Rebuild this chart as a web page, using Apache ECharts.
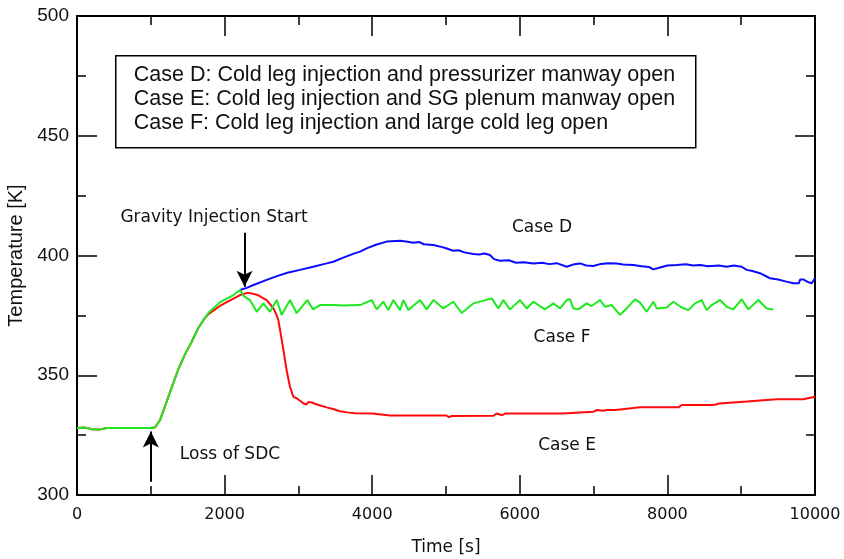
<!DOCTYPE html>
<html>
<head>
<meta charset="utf-8">
<script src="https://cdn.jsdelivr.net/npm/echarts@6/dist/echarts.min.js"></script>
<style>
html,body{margin:0;padding:0;background:#fff;}
#chart{width:844px;height:559px;}
</style>
</head>
<body>
<div id="chart"></div>
<script>
// ---- data (time [s], temperature [K]) ----
const caseD = [
  [2209,385.6],[2300,386.5],[2400,387.8],[2570,389.8],[2700,391.3],[2850,392.8],[3022,394],[3200,395.3],
  [3383,396.7],[3473,397.4],[3600,399],[3750,400.8],[3835,401.6],[3925,403],[4050,404.5],[4196,405.8],
  [4377,406.2],[4460,405.8],[4557,405.3],[4640,405.6],[4700,404.7],[4828,404.4],[4950,403.5],[5000,403],
  [5099,402],[5170,402.2],[5250,401.3],[5370,400.6],[5450,400.4],[5520,400.8],[5596,400.2],[5650,398.5],
  [5732,397.8],[5850,398],[5950,397],[6050,397.2],[6184,396.7],[6300,397],[6400,396.4],[6500,396.8],
  [6636,395.3],[6720,396.2],[6816,396.7],[6900,395.8],[6996,395.6],[7100,396.5],[7200,396.8],[7313,396.7],
  [7400,396.2],[7539,396],[7650,395.5],[7750,395.2],[7810,394.2],[7900,395],[8000,395.8],[8126,396],
  [8250,396.3],[8350,395.8],[8442,396],[8550,395.5],[8700,395.8],[8803,395.3],[8900,395.8],[9006,395.3],
  [9074,394],[9150,393.5],[9255,392.6],[9390,390.5],[9500,390],[9600,389.2],[9706,388.4],[9780,388.4],
  [9800,390],[9841,390],[9900,389],[9955,388.4],[10000,390.5]
];
const caseE = [
  [0,328],[100,328.2],[200,327.5],[300,327.3],[400,328],[600,328],[800,328],[1000,328],[1060,328.3],
  [1125,331.3],[1250,342],[1369,352.2],[1460,358.5],[1554,364],[1640,369.5],[1712,373],[1780,375.5],
  [1847,377],[1940,379],[2028,380.5],[2120,382],[2209,383.5],[2317,384.5],[2450,383.5],[2570,381.4],
  [2660,378],[2700,375.5],[2728,373],[2751,369],[2800,360],[2841,352],[2886,345.2],[2931,341],[2977,340.4],
  [3066,338.3],[3110,337.8],[3134,338.8],[3180,338.6],[3250,337.8],[3383,336.6],[3480,335.8],[3564,335],
  [3660,334.5],[3767,334.1],[4000,334],[4241,333.2],[4600,333.2],[5000,333.2],[5040,332.5],[5080,333],
  [5641,333.1],[5687,334],[5760,333.3],[5800,334],[6274,334],[6580,334],[6600,334.8],[7000,334.8],
  [7050,335.5],[7130,335.2],[7180,335.5],[7300,335.5],[7629,336.6],[8150,336.6],[8194,337.6],[8600,337.6],
  [8622,338.3],[8660,337.8],[8700,338.2],[9074,339],[9481,340],[9840,340],[9865,340.8],[10000,341]
];
const caseF = [
  [0,328],[100,328.2],[200,327.5],[300,327.3],[400,328],[600,328],[800,328],[1000,328],[1060,328.3],
  [1125,331.3],[1250,342],[1369,352.2],[1460,358.5],[1554,364],[1640,369.5],[1712,373],[1780,376],
  [1847,378],[1940,380.5],[2028,382],[2120,383.5],[2209,385.6],[2260,383],[2344,381.4],[2435,376.5],
  [2525,380],[2615,376.5],[2706,381.4],[2773,375.2],[2886,381.4],[2977,375.9],[3120,381.4],[3200,377.5],
  [3293,379.3],[3473,379.3],[3600,379.1],[3835,379.3],[3993,381.4],[4061,377.5],[4151,380.7],[4219,377.2],
  [4287,381.4],[4377,377.2],[4422,381.4],[4490,377.2],[4648,381.4],[4738,377.5],[4829,381.4],[4964,377.9],
  [5099,380.7],[5212,376],[5370,380],[5619,382.1],[5709,377.9],[5777,381.4],[5867,377.5],[6003,381.4],
  [6093,377.9],[6184,380.7],[6342,377.5],[6455,380],[6545,377.9],[6636,381.4],[6680,381.7],[6726,377.9],
  [6793,377.5],[6906,380],[6974,378.9],[7087,381.4],[7155,378.6],[7245,379.3],[7358,375.2],[7448,377.9],
  [7561,381.7],[7629,380.3],[7719,376.5],[7810,380.7],[7855,377.9],[7990,378.3],[8081,380.7],[8194,378.3],
  [8284,377.2],[8374,380],[8464,381.4],[8532,377.2],[8600,379.3],[8713,381.4],[8803,378.6],[8894,377.5],
  [9006,381.7],[9097,377.5],[9232,381.4],[9345,377.9],[9435,377.5]
];
const legendLines = [
  'Case D: Cold leg injection and pressurizer manway open',
  'Case E: Cold leg injection and SG plenum manway open',
  'Case F: Cold leg injection and large cold leg open'
];
const xTicks = {min:0, max:10000, interval:2000};
const yTicks = {min:300, max:500, interval:50};

// ---- chart ----
const chart = echarts.init(document.getElementById('chart'), null, {renderer:'canvas'});
const annFont = {fontFamily:'DejaVu Sans', fontSize:17, color:'#111'};
const axisCommon = {
  axisLine:{show:true, onZero:false, lineStyle:{color:'#000', width:2}},
  axisTick:{show:true, inside:true, length:20, lineStyle:{color:'#000', width:1.5}},
  minorTick:{show:true, splitNumber:2, length:9, lineStyle:{color:'#000', width:1.5}},
  splitLine:{show:false}
};
function lineSeries(name, data, color, extra){
  return Object.assign({
    name, type:'line', data, showSymbol:false, symbol:'none', animation:false,
    lineStyle:{color, width:2}, itemStyle:{color}
  }, extra||{});
}
const option = {
  animation:false,
  backgroundColor:'#fff',
  grid:{left:77, right:29, top:16, bottom:64, containLabel:false, outerBoundsMode:'none'},
  xAxis:[
    Object.assign({type:'value', position:'bottom', min:xTicks.min, max:xTicks.max, interval:xTicks.interval,
      name:'Time [s]', nameLocation:'middle', nameGap:44,
      nameTextStyle:{fontFamily:'DejaVu Sans', fontSize:17, color:'#111'},
      axisLabel:{margin:12, fontFamily:'DejaVu Sans', fontSize:16, color:'#111', formatter:v=>String(v)}}, axisCommon),
    Object.assign({type:'value', position:'top', min:xTicks.min, max:xTicks.max, interval:xTicks.interval,
      axisLabel:{show:false}}, axisCommon)
  ],
  yAxis:[
    Object.assign({type:'value', position:'left', min:yTicks.min, max:yTicks.max, interval:yTicks.interval,
      name:'Temperature [K]', nameLocation:'middle', nameGap:45,
      nameTextStyle:{fontFamily:'Liberation Sans', fontSize:20, color:'#111'},
      axisLabel:{margin:8, fontFamily:'Liberation Sans', fontSize:19, color:'#111'}}, axisCommon),
    Object.assign({type:'value', position:'right', min:yTicks.min, max:yTicks.max, interval:yTicks.interval,
      axisLabel:{show:false}}, axisCommon)
  ],
  series:[
    lineSeries('Case D', caseD, '#0a0aff'),
    lineSeries('Case E', caseE, '#ff0a0a'),
    lineSeries('Case F', caseF, '#1ee81e', {
      markLine:{
        silent:true, animation:false, symbol:['none','arrow'], symbolSize:[12,16],
        label:{show:false},
        lineStyle:{color:'#000', width:2, type:'solid'},
        data:[
          [{coord:[2270,409.5]},{coord:[2270,387]}],
          [{coord:[1000,305.5]},{coord:[1000,326.5]}]
        ]
      },
      markPoint:{
        silent:true, animation:false, symbol:'circle', symbolSize:0,
        label:Object.assign({show:true, position:'inside', formatter:'{b}'}, annFont),
        data:[
          {name:'Gravity Injection Start', coord:[1857,415.7]},
          {name:'Case D', coord:[6301,411.5]},
          {name:'Case F', coord:[6572,365.6]},
          {name:'Case E', coord:[6640,320.5]},
          {name:'Loss of SDC', coord:[2073,316.7]}
        ]
      }
    })
  ],
  graphic:[{
    type:'group', left:115, top:55,
    children:[
      {type:'rect', shape:{x:0, y:0, width:580, height:92}, style:{fill:'#fff', stroke:'#000', lineWidth:1.5}},
      ...legendLines.map((t,i)=>({type:'text', x:18, y:19+24*i,
        style:{text:t, fontFamily:'Liberation Sans', fontSize:21.5, fill:'#111', textVerticalAlign:'middle'}}))
    ]
  }]
};
chart.setOption(option);
</script>
</body>
</html>
